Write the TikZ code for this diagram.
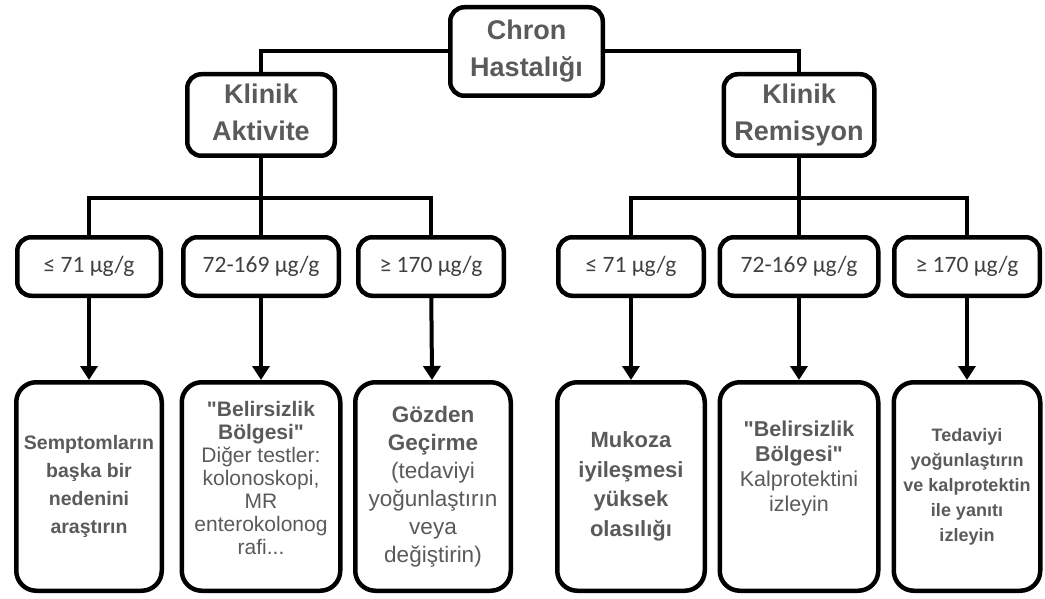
\documentclass[tikz,border=0pt]{standalone}
\usepackage{fontspec}
\setmainfont{Liberation Sans}[Ligatures=TeXOff]
\newfontfamily\calibri{Carlito}
\usepackage{xcolor}
\usetikzlibrary{
    arrows.meta,
    positioning
}
\definecolor{textgrey}{HTML}{5A5A5A}
\definecolor{rangegrey}{HTML}{404040}
\tikzset{
    box/.style={draw, line width=4.5pt, rounded corners=14pt, align=center, text=textgrey, inner sep=1pt},
    head/.style={box, text depth=6pt, font=\fontsize{27}{37}\selectfont\bfseries},
    rangebox/.style={box, minimum height=58.5pt, text=rangegrey, font=\calibri\fontsize{23.5}{27}\selectfont},
    result/.style={box, rounded corners=20pt, minimum height=208.5pt},
    link/.style={line width=4pt},
    arrow/.style={link, -{Triangle[width=17pt,length=14pt]}}
}

\begin{document}
\begin{tikzpicture}[x=1pt, y=-1pt]
                        \useasboundingbox (0, 0) rectangle (1045, 599);

                        \node[head, minimum width=152.5pt, minimum height=88.5pt] (chron) at (526.5, 51.5) {Chron\\Hastalığı};
                        \node[head, minimum width=147.5pt, minimum height=81.5pt] (akt) at (261, 115) {Klinik\\Aktivite};
                        \node[head, minimum width=150.5pt, minimum height=81.5pt] (rem) at (799, 115) {Klinik\\Remisyon};

                        \node[rangebox, minimum width=143.5pt] (r1) at (89, 266.5) {≤ 71 µg/g};
                        \node[rangebox, minimum width=155.5pt] (r2) at (261, 266.5) {72-169 µg/g};
                        \node[rangebox, minimum width=145.5pt] (r3) at (431, 266.5) {≥ 170 µg/g};
                        \node[rangebox, minimum width=145.5pt] (r4) at (631, 266.5) {≤ 71 µg/g};
                        \node[rangebox, minimum width=158.5pt] (r5) at (799, 266.5) {72-169 µg/g};
                        \node[rangebox, minimum width=145.5pt] (r6) at (967, 266.5) {≥ 170 µg/g};

                        \node[result, minimum width=145.5pt, font=\fontsize{19.5}{28}\selectfont\bfseries] (b1) at (89, 486.5)
                            {Semptomların\\başka bir\\nedenini\\araştırın};
                        \node[result, minimum width=158.5pt, text depth=18pt, font=\fontsize{21}{23}\selectfont] (b2) at (261, 486.5)
                            {\bfseries "Belirsizlik\\ \bfseries Bölgesi"\\ Diğer testler:\\kolonoskopi,\\MR\\enterokolonog\\rafi...};
                        \node[result, minimum width=155.5pt, font=\fontsize{22.5}{28}\selectfont] (b3) at (433, 486.5)
                            {\bfseries Gözden\\ \bfseries Geçirme\\(tedaviyi\\yoğunlaştırın\\veya\\değiştirin)};
                        \node[result, minimum width=147.5pt, font=\fontsize{22}{29.5}\selectfont\bfseries] (b4) at (631, 486.5)
                            {Mukoza\\iyileşmesi\\yüksek\\olasılığı};
                        \node[result, minimum width=158.5pt, text depth=40pt, font=\fontsize{21.5}{25}\selectfont] (b5) at (799, 486.5)
                            {\bfseries "Belirsizlik\\ \bfseries Bölgesi"\\Kalprotektini\\izleyin};
                        \node[result, minimum width=146.5pt, font=\fontsize{18}{25}\selectfont\bfseries] (b6) at (967, 486.5)
                            {Tedaviyi\\yoğunlaştırın\\ve kalprotektin\\ile yanıtı\\izleyin};

                        \coordinate (lbus) at (261, 198);
                        \coordinate (rbus) at (799, 198);

                        \draw[link] (chron.west) -| (akt.north);
                        \draw[link] (chron.east) -| (rem.north);
                        \draw[link] (akt) -- (r2);
                        \draw[link] (rem) -- (r5);
                        \draw[link] (r1.north) |- (lbus) -| (r3.north);
                        \draw[link] (r4.north) |- (rbus) -| (r6.north);

                        \draw[arrow] (r1) -- (b1);
                        \draw[arrow] (r2) -- (b2);
                        \draw[arrow] (r3) -- (b3);
                        \draw[arrow] (r4) -- (b4);
                        \draw[arrow] (r5) -- (b5);
                        \draw[arrow] (r6) -- (b6);
                    \end{tikzpicture}
\end{document}
